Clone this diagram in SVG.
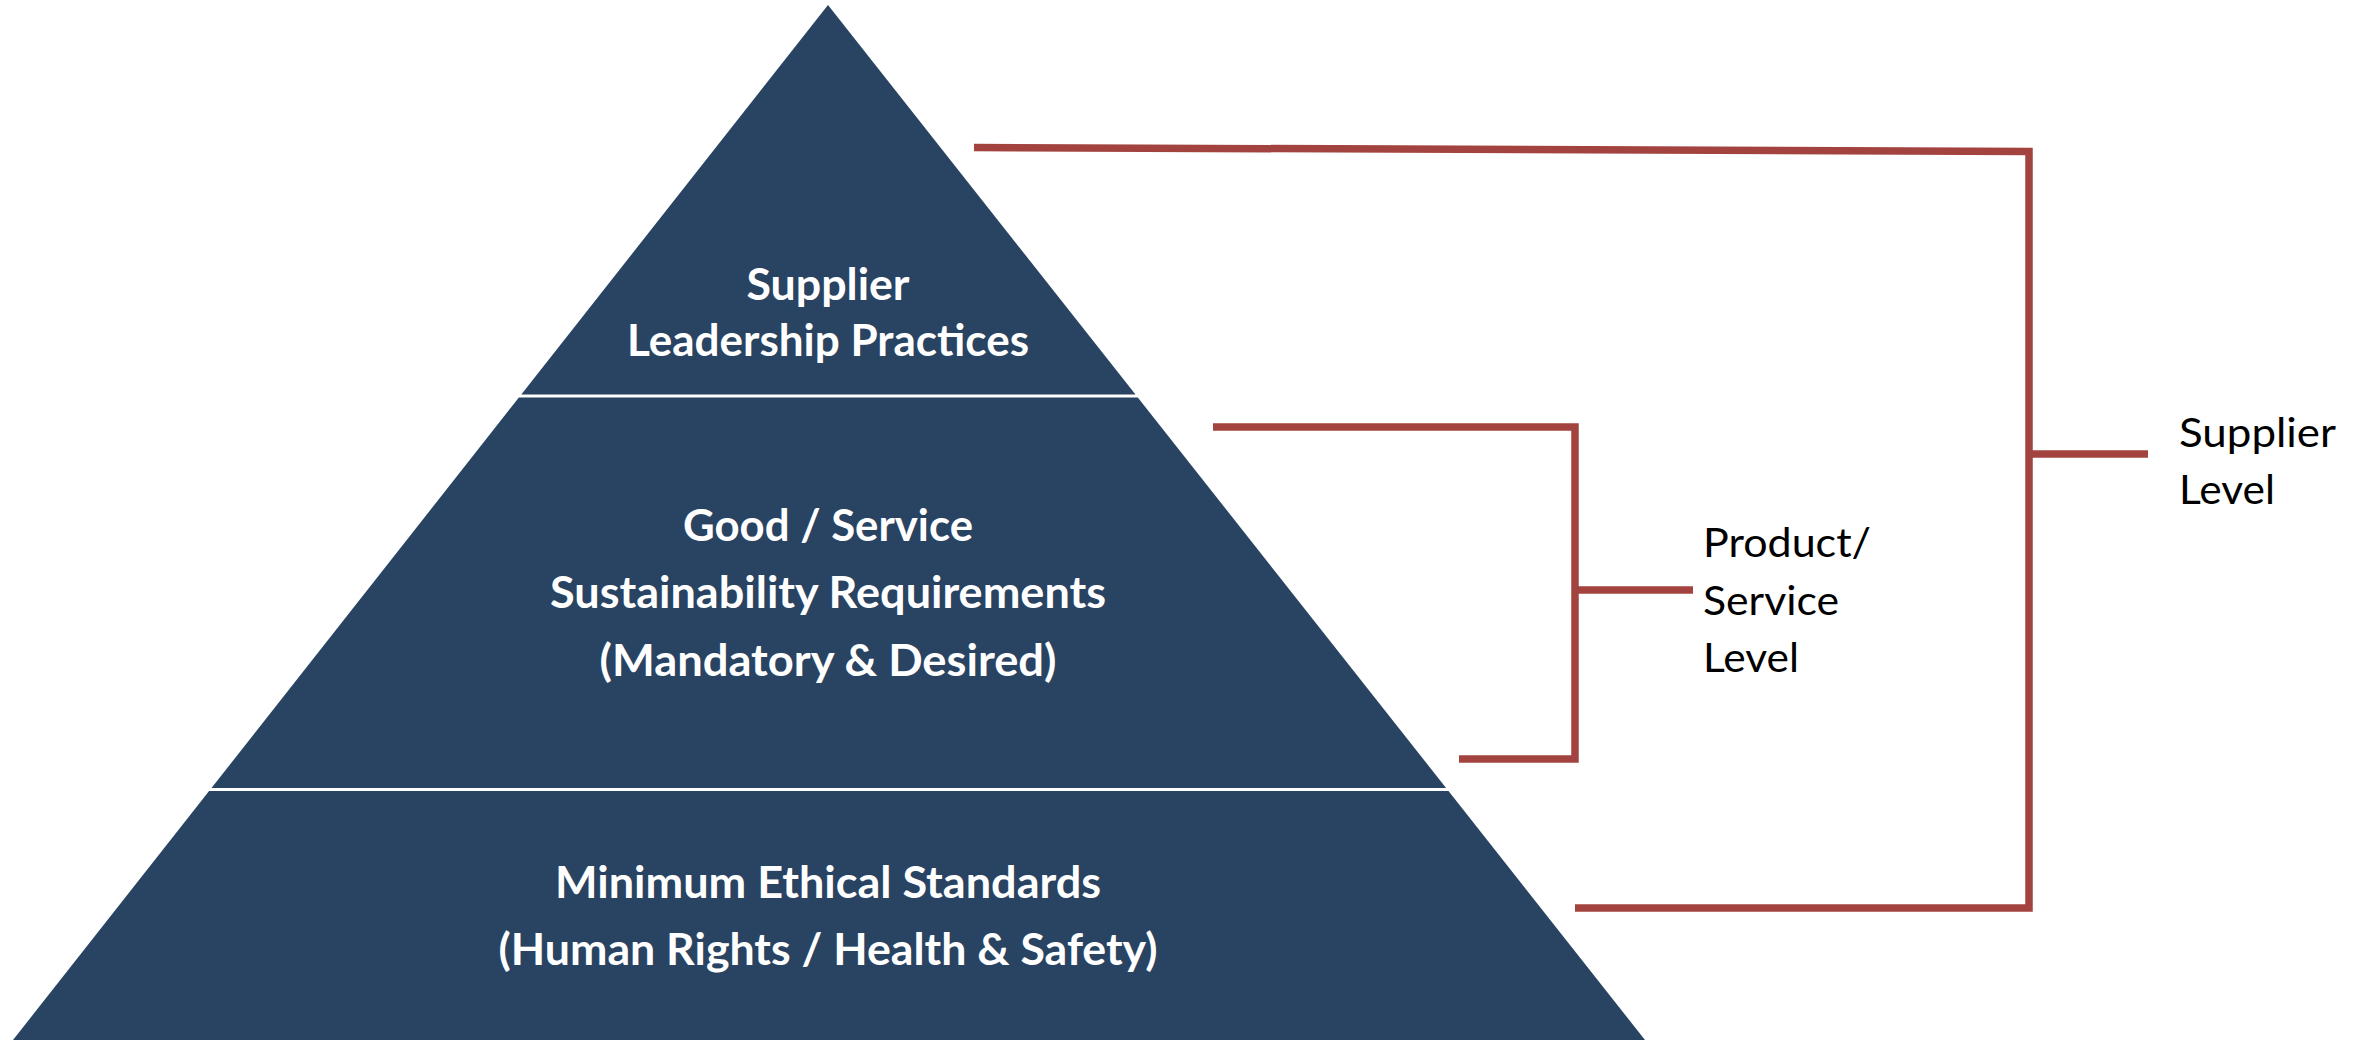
<svg xmlns="http://www.w3.org/2000/svg" width="2369" height="1042" viewBox="0 0 2369 1042">
  <style>
    .layer { fill: #294362; }
    .ptext { font-family: Lato, "Liberation Sans", sans-serif; font-weight: bold; font-size: 43px; fill: #ffffff; text-anchor: middle; }
    .stext { font-family: Lato, "Liberation Sans", sans-serif; font-size: 41px; fill: #000000; }
    .conn { fill: none; stroke: #A3433F; stroke-width: 7.5; stroke-linejoin: miter; stroke-linecap: butt; }
  </style>
  <rect x="0" y="0" width="2369" height="1042" fill="#ffffff"/>

  <g id="layer-top">
    <polygon class="layer" points="828,5 521.3,394.5 1135.5,394.5"/>
    <text class="ptext" x="828" y="300" textLength="163" lengthAdjust="spacingAndGlyphs">Supplier</text>
    <text class="ptext" x="828" y="356" textLength="402" lengthAdjust="spacingAndGlyphs">Leadership Practices</text>
  </g>

  <g id="layer-middle">
    <polygon class="layer" points="518.9,397.5 1137.8,397.5 1446.1,788 211.5,788"/>
    <text class="ptext" x="828" y="541" textLength="290" lengthAdjust="spacingAndGlyphs">Good / Service</text>
    <text class="ptext" x="828" y="608" textLength="556" lengthAdjust="spacingAndGlyphs">Sustainability Requirements</text>
    <text class="ptext" x="828" y="676" textLength="457" lengthAdjust="spacingAndGlyphs">(Mandatory &amp; Desired)</text>
  </g>

  <g id="layer-bottom">
    <polygon class="layer" points="209.1,791 1448.5,791 1645,1040 13,1040"/>
    <text class="ptext" x="828" y="898" textLength="546" lengthAdjust="spacingAndGlyphs">Minimum Ethical Standards</text>
    <text class="ptext" x="828" y="965" textLength="659" lengthAdjust="spacingAndGlyphs">(Human Rights / Health &amp; Safety)</text>
  </g>

  <g id="connectors">
    <path class="conn" d="M974,147.5 L2029,151.5 L2029,908 L1575,908"/>
    <path class="conn" d="M2029,454 L2148,454"/>
    <path class="conn" d="M1213,427 L1575,427 L1575,759 L1459,759"/>
    <path class="conn" d="M1575,590 L1693,590"/>
  </g>

  <g id="label-product-service">
    <text class="stext" x="1703" y="557" textLength="168" lengthAdjust="spacingAndGlyphs">Product/</text>
    <text class="stext" x="1703" y="615" textLength="136" lengthAdjust="spacingAndGlyphs">Service</text>
    <text class="stext" x="1703" y="672" textLength="96" lengthAdjust="spacingAndGlyphs">Level</text>
  </g>

  <g id="label-supplier">
    <text class="stext" x="2179" y="447" textLength="157" lengthAdjust="spacingAndGlyphs">Supplier</text>
    <text class="stext" x="2179" y="504" textLength="96" lengthAdjust="spacingAndGlyphs">Level</text>
  </g>
</svg>
